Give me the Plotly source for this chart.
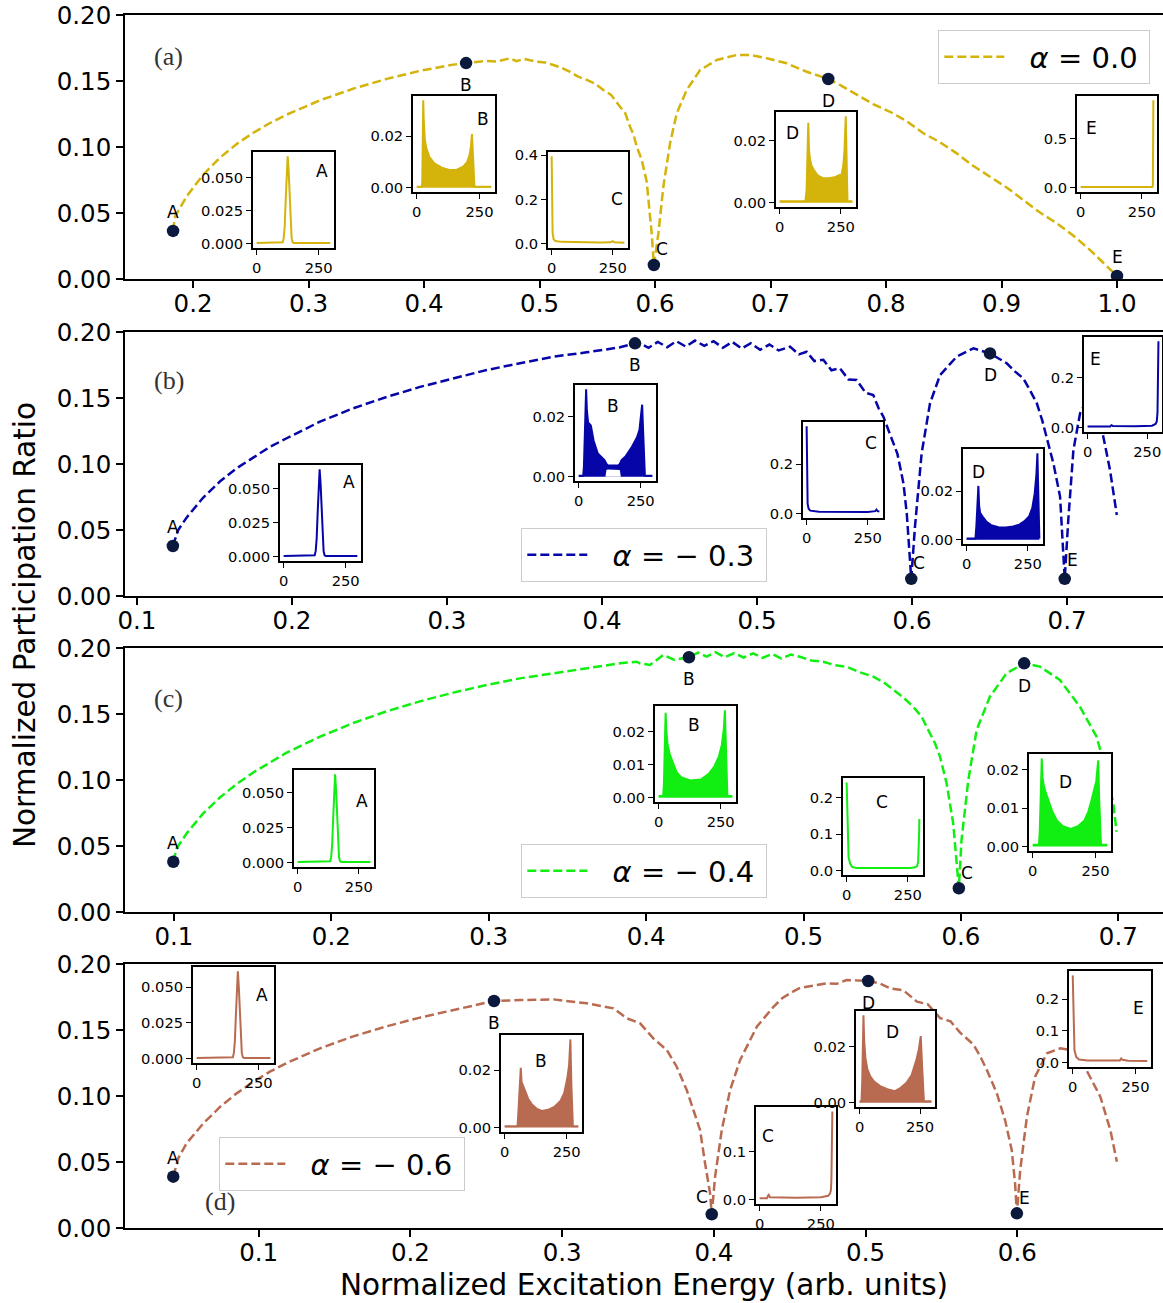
import plotly.graph_objects as go

# ---------------- main curves: normalized participation ratio vs energy ----------------
energy_a = [0.1827, 0.1844, 0.1945, 0.2089, 0.2234, 0.2378, 0.2522, 0.2667, 0.2811, 0.3100,
            0.3388, 0.3677, 0.3965, 0.4254, 0.4364, 0.4543, 0.4630, 0.4745, 0.4800, 0.4865,
            0.4976, 0.5050, 0.5120, 0.5190, 0.5264, 0.5330, 0.5409, 0.5480, 0.5553, 0.5620,
            0.5697, 0.5740, 0.5784, 0.5815, 0.5842, 0.5885, 0.5928, 0.5971, 0.5990, 0.6029,
            0.6072, 0.6130, 0.6188, 0.6274, 0.6390, 0.6534, 0.6707, 0.6823, 0.6967, 0.7140,
            0.7313, 0.7500, 0.7600, 0.7746, 0.7900, 0.8035, 0.8180, 0.8323, 0.8470, 0.8612,
            0.8750, 0.8900, 0.9050, 0.9189, 0.9330, 0.9478, 0.9620, 0.9766, 1.0000]
npr_a = [0.0364, 0.0472, 0.0627, 0.0791, 0.0920, 0.1023, 0.1108, 0.1182, 0.1245, 0.1354,
         0.1442, 0.1516, 0.1577, 0.1624, 0.1636, 0.1652, 0.1648, 0.1672, 0.1650, 0.1668,
         0.1646, 0.1640, 0.1621, 0.1600, 0.1570, 0.1535, 0.1508, 0.1480, 0.1432, 0.1395,
         0.1305, 0.1260, 0.1154, 0.1090, 0.1002, 0.0902, 0.0737, 0.0346, 0.0106, 0.0346,
         0.0699, 0.1028, 0.1255, 0.1432, 0.1583, 0.1659, 0.1697, 0.1697, 0.1672, 0.1634,
         0.1570, 0.1515, 0.1470, 0.1394, 0.1320, 0.1267, 0.1195, 0.1104, 0.1035, 0.0952,
         0.0860, 0.0775, 0.0690, 0.0598, 0.0505, 0.0422, 0.0330, 0.0220, 0.0023]

energy_b = [0.1232, 0.1266, 0.1321, 0.1428, 0.1535, 0.1643, 0.1750, 0.1858, 0.1966, 0.2181,
            0.2395, 0.2611, 0.2826, 0.3041, 0.3256, 0.3471, 0.3686, 0.3901, 0.4116, 0.4213,
            0.4245, 0.4300, 0.4360, 0.4420, 0.4480, 0.4540, 0.4600, 0.4660, 0.4720, 0.4780,
            0.4840, 0.4900, 0.4960, 0.5020, 0.5080, 0.5140, 0.5213, 0.5270, 0.5320, 0.5370,
            0.5428, 0.5480, 0.5535, 0.5590, 0.5643, 0.5700, 0.5750, 0.5785, 0.5815, 0.5850,
            0.5879, 0.5905, 0.5923, 0.5945, 0.5966, 0.5995, 0.6019, 0.6062, 0.6116, 0.6181,
            0.6288, 0.6396, 0.6503, 0.6558, 0.6611, 0.6665, 0.6718, 0.6760, 0.6805, 0.6840,
            0.6869, 0.6912, 0.6955, 0.6985, 0.7008, 0.7041, 0.7084, 0.7148, 0.7180, 0.7234,
            0.7277, 0.7321]
npr_b = [0.0379, 0.0500, 0.0595, 0.0746, 0.0867, 0.0968, 0.1048, 0.1130, 0.1195, 0.1321,
         0.1422, 0.1508, 0.1584, 0.1649, 0.1712, 0.1763, 0.1813, 0.1846, 0.1884, 0.1914,
         0.1914, 0.1880, 0.1925, 0.1885, 0.1930, 0.1890, 0.1935, 0.1895, 0.1930, 0.1880,
         0.1925, 0.1875, 0.1915, 0.1865, 0.1905, 0.1860, 0.1889, 0.1830, 0.1850, 0.1780,
         0.1790, 0.1710, 0.1725, 0.1640, 0.1636, 0.1540, 0.1523, 0.1420, 0.1359, 0.1250,
         0.1157, 0.1080, 0.0980, 0.0850, 0.0626, 0.0130, 0.0525, 0.1081, 0.1460, 0.1674,
         0.1813, 0.1876, 0.1838, 0.1800, 0.1763, 0.1700, 0.1649, 0.1560, 0.1460, 0.1330,
         0.1207, 0.1005, 0.0753, 0.0130, 0.0576, 0.1106, 0.1384, 0.1535, 0.1600, 0.1207,
         0.0955, 0.0614]

energy_c = [0.0996, 0.1017, 0.1081, 0.1186, 0.1292, 0.1398, 0.1504, 0.1610, 0.1716, 0.1928,
            0.2139, 0.2351, 0.2563, 0.2775, 0.2987, 0.3198, 0.3410, 0.3622, 0.3834, 0.3940,
            0.3960, 0.4024, 0.4109, 0.4180, 0.4272, 0.4330, 0.4384, 0.4440, 0.4500, 0.4560,
            0.4620, 0.4680, 0.4740, 0.4800, 0.4860, 0.4920, 0.4977, 0.5050, 0.5125, 0.5200,
            0.5273, 0.5360, 0.5443, 0.5510, 0.5570, 0.5630, 0.5697, 0.5750, 0.5803, 0.5835,
            0.5867, 0.5909, 0.5951, 0.5987, 0.6004, 0.6047, 0.6100, 0.6184, 0.6290, 0.6402,
            0.6502, 0.6629, 0.6756, 0.6862, 0.6926, 0.6968, 0.6989]
npr_c = [0.0381, 0.0482, 0.0596, 0.0747, 0.0867, 0.0969, 0.1057, 0.1135, 0.1207, 0.1328,
         0.1432, 0.1520, 0.1596, 0.1662, 0.1720, 0.1770, 0.1808, 0.1846, 0.1884, 0.1896,
         0.1884, 0.1871, 0.1947, 0.1910, 0.1930, 0.1965, 0.1935, 0.1968, 0.1930, 0.1962,
         0.1928, 0.1960, 0.1925, 0.1955, 0.1920, 0.1950, 0.1934, 0.1905, 0.1896, 0.1870,
         0.1858, 0.1815, 0.1783, 0.1740, 0.1682, 0.1630, 0.1555, 0.1480, 0.1354, 0.1280,
         0.1177, 0.0975, 0.0672, 0.0180, 0.0545, 0.1000, 0.1379, 0.1631, 0.1808, 0.1884,
         0.1859, 0.1758, 0.1555, 0.1328, 0.1051, 0.0823, 0.0608]

energy_d = [0.0437, 0.0470, 0.0525, 0.0635, 0.0745, 0.0855, 0.0964, 0.1074, 0.1185, 0.1404,
            0.1624, 0.1844, 0.2063, 0.2283, 0.2551, 0.2723, 0.2942, 0.3162, 0.3338, 0.3426,
            0.3514, 0.3601, 0.3690, 0.3755, 0.3821, 0.3865, 0.3909, 0.3942, 0.3975, 0.3986,
            0.4008, 0.4052, 0.4107, 0.4173, 0.4283, 0.4393, 0.4450, 0.4502, 0.4560, 0.4612,
            0.4680, 0.4744, 0.4810, 0.4876, 0.5017, 0.5090, 0.5162, 0.5250, 0.5338, 0.5410,
            0.5491, 0.5560, 0.5623, 0.5711, 0.5760, 0.5799, 0.5865, 0.5919, 0.5963, 0.5985,
            0.5997, 0.6019, 0.6063, 0.6117, 0.6195, 0.6283, 0.6349, 0.6455, 0.6547, 0.6613,
            0.6656]
npr_d = [0.0389, 0.0528, 0.0642, 0.0792, 0.0917, 0.1020, 0.1108, 0.1184, 0.1250, 0.1361,
         0.1452, 0.1528, 0.1594, 0.1649, 0.1720, 0.1727, 0.1732, 0.1702, 0.1664, 0.1589,
         0.1550, 0.1437, 0.1348, 0.1222, 0.1045, 0.0894, 0.0742, 0.0490, 0.0263, 0.0104,
         0.0389, 0.0742, 0.1045, 0.1273, 0.1525, 0.1676, 0.1740, 0.1778, 0.1815, 0.1828,
         0.1840, 0.1854, 0.1850, 0.1879, 0.1871, 0.1855, 0.1815, 0.1800, 0.1715, 0.1695,
         0.1590, 0.1565, 0.1480, 0.1390, 0.1290, 0.1197, 0.1020, 0.0818, 0.0591, 0.0339,
         0.0111, 0.0439, 0.0843, 0.1146, 0.1323, 0.1361, 0.1348, 0.1197, 0.0995, 0.0742,
         0.0502]

# selected states A..E on each curve
state_labels = ["A", "B", "C", "D", "E"]
state_a_x = [0.1827, 0.4364, 0.5990, 0.7500, 1.0000]
state_a_y = [0.0364, 0.1636, 0.0106, 0.1515, 0.0023]
state_b_x = [0.1232, 0.4213, 0.5995, 0.6503, 0.6985]
state_b_y = [0.0379, 0.1914, 0.0130, 0.1838, 0.0130]
state_c_x = [0.0996, 0.4272, 0.5987, 0.6402]
state_c_y = [0.0381, 0.1930, 0.0180, 0.1884]
state_d_x = [0.0437, 0.2551, 0.3986, 0.5017, 0.5997]
state_d_y = [0.0389, 0.1720, 0.0104, 0.1871, 0.0111]

alpha_names = ["<i>α</i> = 0.0", "<i>α</i> = − 0.3", "<i>α</i> = − 0.4", "<i>α</i> = − 0.6"]

# ---------------- site-resolved probability of the selected states ----------------
a_A_site = [0, 100, 105, 109, 113, 117, 121, 125, 129, 133, 137, 141, 145, 150, 297]
a_A_prob = [0.0005, 0.0005, 0.001, 0.004, 0.013, 0.033, 0.055, 0.0664, 0.055, 0.033, 0.013, 0.004, 0.001, 0.0005, 0.0005]
a_B_site = [0, 20, 22, 24, 26, 28, 32, 38, 50, 70, 100, 130, 160, 185, 200, 210, 216, 220, 224, 228, 230, 297]
a_B_prob = [0.0003, 0.0003, 0.002, 0.028, 0.034, 0.026, 0.019, 0.0155, 0.012, 0.0095, 0.0078, 0.0069, 0.007, 0.0082, 0.0098, 0.0125, 0.016, 0.0209, 0.014, 0.002, 0.0003, 0.0003]
a_C_site = [0, 2, 4, 8, 15, 40, 100, 200, 240, 250, 256, 297]
a_C_prob = [0.395, 0.25, 0.05, 0.02, 0.012, 0.008, 0.006, 0.005, 0.006, 0.011, 0.006, 0.004]
a_D_site = [0, 105, 110, 114, 117, 120, 124, 130, 140, 155, 175, 200, 225, 240, 247, 250, 253, 260, 265, 270, 274, 277, 297]
a_D_prob = [0.0005, 0.0005, 0.004, 0.018, 0.0258, 0.017, 0.014, 0.012, 0.0105, 0.0088, 0.008, 0.0079, 0.0082, 0.0088, 0.009, 0.004, 0.009, 0.012, 0.017, 0.0279, 0.01, 0.0005, 0.0005]
a_E_site = [0, 293, 295, 296, 297]
a_E_prob = [0.006, 0.006, 0.02, 0.5, 0.895]

b_A_site = [0, 120, 125, 129, 133, 137, 141, 145, 149, 153, 157, 161, 165, 170, 297]
b_A_prob = [0.0005, 0.0005, 0.001, 0.004, 0.013, 0.032, 0.053, 0.064, 0.053, 0.032, 0.013, 0.004, 0.001, 0.0005, 0.0005]
b_B_site = [0, 18, 21, 26, 30, 33, 38, 49, 60, 77, 90, 104, 112, 118, 160, 166, 173, 190, 215, 235, 245, 252, 256, 260, 264, 267, 297]
b_B_prob = [0.0003, 0.0003, 0.003, 0.02, 0.029, 0.022, 0.018, 0.017, 0.012, 0.0077, 0.0065, 0.0055, 0.0042, 0.0037, 0.0037, 0.0042, 0.0055, 0.0068, 0.0099, 0.013, 0.0155, 0.02, 0.0239, 0.015, 0.002, 0.0003, 0.0003]
b_B_floor_site = [108, 112, 118, 160, 166, 170]
b_B_floor_prob = [0.0, 0.0022, 0.0024, 0.0024, 0.0022, 0.0]
b_C_site = [0, 2, 4, 8, 15, 50, 150, 250, 280, 285, 290, 297]
b_C_prob = [0.353, 0.2, 0.04, 0.02, 0.012, 0.008, 0.006, 0.007, 0.01, 0.016, 0.01, 0.008]
b_D_site = [0, 36, 40, 44, 48, 51, 55, 65, 80, 100, 130, 160, 190, 215, 235, 255, 268, 278, 285, 289, 292, 295, 297]
b_D_prob = [0.0005, 0.0005, 0.006, 0.016, 0.0221, 0.014, 0.011, 0.0095, 0.0075, 0.006, 0.0051, 0.005, 0.0054, 0.0062, 0.0075, 0.0095, 0.013, 0.019, 0.027, 0.0355, 0.02, 0.003, 0.0005]
b_E_site = [0, 95, 100, 106, 200, 270, 285, 290, 293, 295, 296, 297]
b_E_prob = [0.005, 0.005, 0.01, 0.007, 0.006, 0.008, 0.015, 0.025, 0.06, 0.15, 0.26, 0.345]

c_A_site = [0, 128, 133, 137, 141, 145, 149, 153, 157, 161, 165, 169, 173, 178, 297]
c_A_prob = [0.0005, 0.0005, 0.001, 0.004, 0.013, 0.031, 0.052, 0.063, 0.052, 0.031, 0.013, 0.004, 0.001, 0.0005, 0.0005]
c_B_site = [0, 18, 21, 25, 28, 31, 36, 45, 55, 72, 90, 127, 170, 202, 225, 243, 255, 263, 267, 271, 275, 277, 297]
c_B_prob = [0.0005, 0.0005, 0.004, 0.018, 0.0257, 0.02, 0.016, 0.013, 0.011, 0.0077, 0.0062, 0.0052, 0.0055, 0.0072, 0.0095, 0.0125, 0.016, 0.021, 0.0264, 0.012, 0.002, 0.0005, 0.0005]
c_C_site = [0, 2, 5, 8, 14, 22, 40, 150, 260, 280, 288, 292, 294, 296, 297]
c_C_prob = [0.241, 0.16, 0.07, 0.036, 0.02, 0.01, 0.007, 0.006, 0.007, 0.009, 0.012, 0.025, 0.05, 0.1, 0.141]
c_D_site = [0, 25, 28, 32, 36, 39, 44, 52, 62, 78, 96, 120, 151, 180, 206, 222, 234, 245, 253, 258, 261, 265, 270, 272, 297]
c_D_prob = [0.0005, 0.0005, 0.004, 0.013, 0.023, 0.018, 0.016, 0.014, 0.012, 0.0092, 0.0068, 0.0053, 0.0046, 0.0053, 0.0068, 0.0092, 0.012, 0.0145, 0.017, 0.0205, 0.0225, 0.012, 0.003, 0.0005, 0.0005]

d_A_site = [0, 141, 146, 150, 154, 158, 162, 166, 170, 174, 178, 182, 186, 191, 297]
d_A_prob = [0.0005, 0.0005, 0.001, 0.004, 0.012, 0.030, 0.050, 0.0611, 0.050, 0.030, 0.012, 0.004, 0.001, 0.0005, 0.0005]
d_B_site = [0, 52, 55, 60, 65, 68, 74, 82, 95, 109, 130, 150, 175, 200, 225, 240, 253, 260, 265, 269, 273, 275, 297]
d_B_prob = [0.0005, 0.0005, 0.005, 0.016, 0.0209, 0.016, 0.0145, 0.0128, 0.01, 0.0082, 0.0065, 0.0058, 0.0062, 0.0072, 0.0093, 0.012, 0.0174, 0.022, 0.0308, 0.015, 0.003, 0.0005, 0.0005]
d_C_site = [0, 30, 34, 37, 42, 150, 250, 280, 288, 291, 293, 295, 296, 297]
d_C_prob = [0.003, 0.003, 0.008, 0.01, 0.005, 0.004, 0.005, 0.008, 0.013, 0.02, 0.04, 0.09, 0.14, 0.185]
d_D_site = [0, 8, 11, 14, 16, 19, 24, 32, 44, 60, 85, 115, 146, 170, 194, 215, 235, 245, 253, 258, 263, 266, 297]
d_D_prob = [0.0005, 0.0005, 0.008, 0.025, 0.0312, 0.022, 0.016, 0.012, 0.0094, 0.0075, 0.0059, 0.0048, 0.0041, 0.0053, 0.0071, 0.0098, 0.0153, 0.019, 0.0238, 0.014, 0.003, 0.0005, 0.0005]
d_E_site = [0, 2, 4, 7, 14, 25, 60, 150, 188, 193, 198, 220, 297]
d_E_prob = [0.2745, 0.18, 0.08, 0.039, 0.018, 0.01, 0.007, 0.006, 0.007, 0.013, 0.009, 0.006, 0.005]

SITE_MAX = 297

# ---------------- page geometry (pixels) ----------------
W, H = 1163, 1303
ML, MR, MT, MB = 125, 0, 15, 75
PW, PH = W - ML - MR, H - MT - MB
FONT = "DejaVu Sans"
COLORS = ["#d4b30a", "#0505a8", "#11ee11", "#b86b50"]
MARK = "#0b1a3c"


def fx(px):
    return (px - ML) / PW


def fy(py):
    return (H - MB - py) / PH


panels = [
    dict(x=energy_a, y=npr_a, sx=state_a_x, sy=state_a_y, xr=[0.1411, 1.0398], box=(15, 279),
         tag="(a)", tagpos=(168, 56), leg=(938, 30),
         shifts=[(0, 19), (0, -22), (8, 16), (0, -22), (0, 19)]),
    dict(x=energy_b, y=npr_b, sx=state_b_x, sy=state_b_y, xr=[0.0923, 0.7619], box=(332, 596),
         tag="(b)", tagpos=(169, 380), leg=(521, 528),
         shifts=[(0, 19), (0, -22), (8, 16), (0, -22), (8, 19)]),
    dict(x=energy_c, y=npr_c, sx=state_c_x, sy=state_c_y, xr=[0.0689, 0.7284], box=(648, 912),
         tag="(c)", tagpos=(168, 698), leg=(521, 844),
         shifts=[(0, 19), (0, -22), (8, 15), (0, -23)]),
    dict(x=energy_d, y=npr_d, sx=state_d_x, sy=state_d_y, xr=[0.0119, 0.6960], box=(964, 1228),
         tag="(d)", tagpos=(220, 1201), leg=(219, 1137),
         shifts=[(0, 19), (0, -22), (-10, 17), (0, -22), (8, 15)]),
]

# inset: panel, letter, box (left, right, top, bottom px), sites, probs, y ticks, format, letter position, filled
insets = [
    (0, "A", (253, 334, 152, 248), a_A_site, a_A_prob, [0, 0.025, 0.05], ".3f", (322, 171), False),
    (0, "B", (413, 495, 96, 192), a_B_site, a_B_prob, [0, 0.02], ".2f", (483, 119), True),
    (0, "C", (548, 628, 152, 248), a_C_site, a_C_prob, [0, 0.2, 0.4], ".1f", (617, 199), False),
    (0, "D", (776, 856, 112, 207), a_D_site, a_D_prob, [0, 0.02], ".2f", (792, 133), True),
    (0, "E", (1077, 1157, 96, 192), a_E_site, a_E_prob, [0, 0.5], ".1f", (1091, 128), False),
    (1, "A", (280, 361, 465, 561), b_A_site, b_A_prob, [0, 0.025, 0.05], ".3f", (349, 482), False),
    (1, "B", (575, 656, 385, 481), b_B_site, b_B_prob, [0, 0.02], ".2f", (613, 406), True),
    (1, "C", (803, 883, 422, 518), b_C_site, b_C_prob, [0, 0.2], ".1f", (871, 443), False),
    (1, "D", (963, 1043, 449, 544), b_D_site, b_D_prob, [0, 0.02], ".2f", (978, 472), True),
    (1, "E", (1084, 1162, 337, 432), b_E_site, b_E_prob, [0, 0.2], ".1f", (1095, 359), False),
    (2, "A", (294, 374, 770, 867), c_A_site, c_A_prob, [0, 0.025, 0.05], ".3f", (362, 801), False),
    (2, "B", (655, 736, 706, 802), c_B_site, c_B_prob, [0, 0.01, 0.02], ".2f", (694, 725), True),
    (2, "C", (843, 923, 778, 875), c_C_site, c_C_prob, [0, 0.1, 0.2], ".1f", (882, 802), False),
    (2, "D", (1029, 1111, 754, 851), c_D_site, c_D_prob, [0, 0.01, 0.02], ".2f", (1065, 782), True),
    (3, "A", (193, 274, 967, 1063), d_A_site, d_A_prob, [0, 0.025, 0.05], ".3f", (262, 995), False),
    (3, "B", (501, 582, 1035, 1132), d_B_site, d_B_prob, [0, 0.02], ".2f", (541, 1061), True),
    (3, "C", (756, 836, 1107, 1204), d_C_site, d_C_prob, [0, 0.1], ".1f", (768, 1136), False),
    (3, "D", (856, 935, 1011, 1107), d_D_site, d_D_prob, [0, 0.02], ".2f", (892, 1032), True),
    (3, "E", (1069, 1151, 971, 1067), d_E_site, d_E_prob, [0, 0.1, 0.2], ".1f", (1138, 1008), False),
]

fig = go.Figure()
layout = dict(
    width=W, height=H,
    margin=dict(l=ML, r=MR, t=MT, b=MB),
    paper_bgcolor="white", plot_bgcolor="white",
    font=dict(family=FONT, color="black"),
    showlegend=True,
)
annotations = []


def suffix(n):
    return "" if n == 1 else str(n)


def paper_text(px, py, text, size, family=FONT, color="black", angle=0):
    return dict(x=fx(px), y=fy(py), xref="paper", yref="paper", text=text,
                xanchor="center", yanchor="middle", showarrow=False, textangle=angle,
                font=dict(size=size, family=family, color=color))


for i, p in enumerate(panels):
    n = i + 1
    xa, ya = "x" + suffix(n), "y" + suffix(n)
    lg = "legend" + suffix(n)
    col = COLORS[i]
    fig.add_trace(go.Scatter(
        x=p["x"], y=p["y"], mode="lines",
        name="\u2002\u2009" + alpha_names[i] + "\u2009",
        line=dict(color=col, width=2.5, dash="9px,4px"),
        xaxis=xa, yaxis=ya, legend=lg))
    fig.add_trace(go.Scatter(
        x=p["sx"], y=p["sy"], mode="markers", showlegend=False,
        marker=dict(color=MARK, size=12.5),
        xaxis=xa, yaxis=ya))
    top, bot = p["box"]
    layout["xaxis" + suffix(n)] = dict(
        domain=[0, 1], range=p["xr"], anchor=ya,
        showline=True, linecolor="black", linewidth=1.6, mirror=True,
        ticks="outside", ticklen=7, tickwidth=1.6, tickcolor="black",
        dtick=0.1, tick0=0, tickformat=".1f", ticklabelstandoff=-5,
        tickfont=dict(size=24.5), showgrid=False, zeroline=False)
    layout["yaxis" + suffix(n)] = dict(
        domain=[fy(bot), fy(top)], range=[0, 0.2], anchor=xa,
        showline=True, linecolor="black", linewidth=1.6,
        ticks="outside", ticklen=7, tickwidth=1.6, tickcolor="black",
        tickvals=[0, 0.05, 0.1, 0.15, 0.2], tickformat=".2f",
        tickfont=dict(size=24.5), showgrid=False, zeroline=False)
    lx, ly = p["leg"]
    layout[lg] = dict(
        x=fx(lx), y=fy(ly), xanchor="left", yanchor="top",
        bgcolor="rgba(255,255,255,0.8)", bordercolor="#cccccc", borderwidth=1.3,
        font=dict(size=29, family=FONT), itemwidth=60)
    for k, (lab, sx, sy) in enumerate(zip(state_labels, p["sx"], p["sy"])):
        dx, dy = p["shifts"][k]
        annotations.append(dict(
            x=sx, y=sy, xref=xa, yref=ya, text=lab, showarrow=False,
            xanchor="center", yanchor="middle",
            xshift=dx, yshift=dy, font=dict(size=17, family=FONT)))
    annotations.append(paper_text(p["tagpos"][0], p["tagpos"][1], p["tag"], 26,
                                  family="Liberation Serif", color="#333333"))

for k, (pi, lab, box, sites, probs, yt, fmt, lpos, filled) in enumerate(insets):
    n = 5 + k
    xa, ya = "x" + suffix(n), "y" + suffix(n)
    col = COLORS[pi]
    fig.add_trace(go.Scatter(
        x=sites, y=probs, mode="lines", showlegend=False,
        line=dict(color=col, width=2),
        fill="tozeroy" if filled else None, fillcolor=col,
        xaxis=xa, yaxis=ya))
    if pi == 1 and lab == "B":
        fig.add_trace(go.Scatter(
            x=b_B_floor_site, y=b_B_floor_prob, mode="lines", showlegend=False,
            line=dict(color="white", width=0), fill="tozeroy", fillcolor="white",
            xaxis=xa, yaxis=ya))
    L, R, T, B = box
    pmax = max(probs)
    pad = 0.05 * SITE_MAX
    layout["xaxis" + suffix(n)] = dict(
        domain=[fx(L), fx(R)], range=[-pad, SITE_MAX + pad], anchor=ya,
        showline=True, linecolor="black", linewidth=1.8, mirror=True,
        ticks="outside", ticklen=5, tickwidth=1.4, tickcolor="black",
        tickvals=[0, 250], tickfont=dict(size=14.7),
        showgrid=False, zeroline=False)
    layout["yaxis" + suffix(n)] = dict(
        domain=[fy(B), fy(T)], range=[-0.05 * pmax, 1.05 * pmax], anchor=xa,
        showline=True, linecolor="black", linewidth=1.8, mirror=True,
        ticks="outside", ticklen=5, tickwidth=1.4, tickcolor="black",
        tickvals=yt, tickformat=fmt, tickfont=dict(size=14.7),
        showgrid=False, zeroline=False)
    annotations.append(paper_text(lpos[0], lpos[1], lab, 17))

annotations.append(paper_text(25, 625, "Normalized Participation Ratio", 29.5, angle=-90))
annotations.append(paper_text(644, 1285, "Normalized Excitation Energy (arb. units)", 29.5))

layout["annotations"] = annotations
fig.update_layout(**layout)
fig.write_html("out.html")
